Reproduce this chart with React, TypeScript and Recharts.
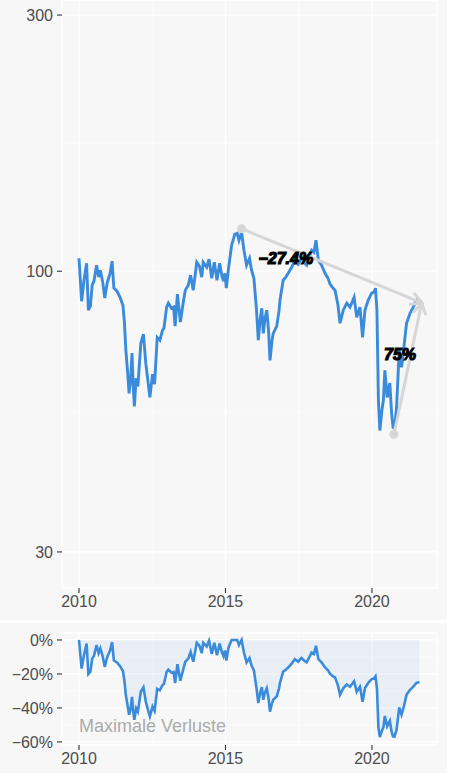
import React from 'react';
import {
  LineChart, Line, ComposedChart, Area, XAxis, YAxis,
  CartesianGrid, ReferenceLine, ReferenceDot,
} from 'recharts';

// decimal years of each observation
const dates = [
  2010.00, 2010.09, 2010.17, 2010.26, 2010.32, 2010.39, 2010.45, 2010.51, 2010.60, 2010.67,
  2010.73, 2010.81, 2010.88, 2010.96, 2011.06, 2011.13, 2011.19, 2011.30, 2011.40, 2011.50,
  2011.55, 2011.60, 2011.66, 2011.71, 2011.76, 2011.81, 2011.85, 2011.89, 2011.95, 2012.01,
  2012.11, 2012.20, 2012.28, 2012.35, 2012.42, 2012.51, 2012.58, 2012.67, 2012.76, 2012.85,
  2012.90, 2012.99, 2013.05, 2013.16, 2013.23, 2013.28, 2013.36, 2013.46, 2013.57, 2013.63,
  2013.73, 2013.81, 2013.90, 2014.02, 2014.11, 2014.19, 2014.24, 2014.36, 2014.44, 2014.53,
  2014.62, 2014.71, 2014.80, 2014.88, 2014.93, 2014.98, 2015.03, 2015.10, 2015.21, 2015.32,
  2015.40, 2015.46, 2015.55, 2015.63, 2015.72, 2015.82, 2015.89, 2015.97, 2016.06, 2016.12,
  2016.18, 2016.24, 2016.29, 2016.35, 2016.41, 2016.47, 2016.52, 2016.59, 2016.63, 2016.75,
  2016.83, 2016.86, 2016.97, 2017.06, 2017.14, 2017.26, 2017.37, 2017.48, 2017.60, 2017.68,
  2017.77, 2017.85, 2017.94, 2018.02, 2018.09, 2018.17, 2018.28, 2018.40, 2018.50, 2018.57,
  2018.67, 2018.74, 2018.84, 2018.91, 2019.02, 2019.14, 2019.25, 2019.39, 2019.48, 2019.59,
  2019.68, 2019.76, 2019.87, 2019.99, 2020.07, 2020.12, 2020.17, 2020.22, 2020.27, 2020.34,
  2020.39, 2020.44, 2020.52, 2020.61, 2020.67, 2020.72, 2020.77, 2020.84, 2020.93, 2021.01,
  2021.09, 2021.18, 2021.30, 2021.41, 2021.52, 2021.62,
];

// indexed price (log scale)
const price = [
  105.7, 87.9, 96.2, 103.5, 84.6, 86.1, 94.2, 95.8, 102.6, 97.5,
  100.4, 95.4, 89.1, 95.0, 99.1, 104.4, 93.0, 91.8, 89.4, 86.4,
  80.4, 71.3, 64.8, 59.2, 62.6, 70.4, 61.3, 56.0, 63.2, 61.0,
  73.4, 76.3, 67.4, 62.6, 58.2, 64.3, 61.6, 75.3, 74.4, 77.6,
  78.3, 85.7, 87.2, 85.3, 85.7, 79.0, 90.6, 80.4, 88.3, 92.2,
  94.2, 98.3, 92.2, 103.9, 102.2, 97.5, 103.9, 101.7, 105.3, 97.0,
  103.9, 96.2, 103.5, 97.9, 95.8, 99.1, 93.0, 100.9, 111.8, 117.2,
  117.7, 114.2, 118.2, 109.4, 102.6, 105.7, 100.4, 97.0, 84.6, 74.4,
  81.0, 85.3, 76.6, 81.7, 84.6, 77.6, 68.2, 74.4, 76.6, 79.0,
  84.6, 88.3, 96.2, 97.5, 99.1, 101.7, 104.8, 103.0, 105.7, 103.9,
  102.6, 105.7, 109.4, 108.5, 114.2, 104.8, 102.6, 99.1, 97.0, 94.6,
  93.0, 92.2, 86.4, 80.0, 84.6, 87.2, 85.7, 89.4, 82.1, 85.7,
  75.3, 84.6, 88.3, 91.0, 91.4, 93.0, 84.6, 57.5, 50.5, 55.1,
  57.5, 65.4, 58.2, 61.9, 54.4, 51.2, 51.0, 55.8, 71.3, 66.2,
  72.2, 80.0, 83.5, 85.7, 88.3, 89.1,
];

// drawdown from running high, in %
const drawdown = [
  0, -16.8, -9.0, -2.1, -20.0, -18.6, -11.0, -9.4, -3.0, -7.8,
  -5.0, -9.8, -15.8, -10.2, -6.2, -1.3, -12.1, -13.2, -15.4, -18.3,
  -24.0, -32.6, -38.7, -44.0, -40.8, -33.5, -42.0, -47.0, -40.2, -42.2,
  -30.5, -27.8, -36.3, -40.8, -45.0, -39.2, -41.7, -28.7, -29.6, -26.5,
  -25.9, -18.9, -17.5, -19.3, -18.9, -25.3, -14.3, -24.0, -16.5, -12.8,
  -11.0, -7.0, -12.8, -1.7, -3.4, -7.8, -1.7, -3.8, -0.4, -8.2,
  -1.7, -9.0, -2.1, -7.4, -9.4, -6.2, -12.1, -4.6, 0, 0,
  0, -3.0, 0, -7.4, -13.2, -10.6, -15.0, -17.9, -28.4, -37.1,
  -31.4, -27.8, -35.2, -30.8, -28.4, -34.4, -42.2, -37.1, -35.2, -33.2,
  -28.4, -25.3, -18.6, -17.5, -16.2, -13.9, -11.3, -12.8, -10.6, -12.1,
  -13.2, -10.6, -7.4, -8.2, -3.4, -11.3, -13.2, -16.2, -17.9, -20.0,
  -21.4, -22.0, -26.9, -32.3, -28.4, -26.2, -27.5, -24.3, -30.5, -27.5,
  -36.3, -28.4, -25.3, -23.0, -22.7, -21.4, -28.4, -51.4, -57.2, -53.4,
  -51.4, -44.7, -50.8, -47.7, -54.0, -56.7, -56.9, -52.8, -39.7, -44.0,
  -39.0, -32.3, -29.3, -27.5, -25.3, -24.7,
];

const yearTicks = [2010, 2015, 2020];
const yearMinor = [2012.5, 2017.5];
const priceTicks = [30, 100, 300];
const priceMinor = [54.77, 173.2];
const ddTicks = [-60, -40, -20, 0];
const ddMinor = [-50, -30, -10];

// annotation anchors
const peakPt = { t: 2015.55, v: 120 };
const troughPt = { t: 2020.75, v: 49.7 };
const endPt = { t: 2021.7, v: 87.3 };
const lossLabel = { t: 2017.06, v: 105.7, text: '\u221227.4%' };
const gainLabel = { t: 2020.96, v: 70, text: '75%' };

const chartData = dates.map((t, i) => ({ t, price: price[i], dd: drawdown[i] }));

const FONT = '"Liberation Sans", Arial, Helvetica, sans-serif';
const BLUE = '#3a8bdb';
const ARROW = '#d6d6d6';
const BG = '#f7f7f7';
const tickStyle = { fill: '#4d4d4d', fontSize: 16, fontFamily: FONT };
const X_DOMAIN: [number, number] = [2009.42, 2022.22];

const arrowShape = (p: any) => {
  const { x1, y1, x2, y2 } = p;
  const ang = Math.atan2(y2 - y1, x2 - x1);
  const len = 13;
  const spread = Math.PI / 6;
  const ax = x2 - len * Math.cos(ang - spread);
  const ay = y2 - len * Math.sin(ang - spread);
  const bx = x2 - len * Math.cos(ang + spread);
  const by = y2 - len * Math.sin(ang + spread);
  return (
    <g>
      <line x1={x1} y1={y1} x2={x2} y2={y2} stroke={ARROW} strokeWidth={3} />
      <polyline points={`${ax},${ay} ${x2},${y2} ${bx},${by}`} fill="none" stroke={ARROW} strokeWidth={3} />
    </g>
  );
};

const annoText = (text: string) => (p: any) => (
  <text
    x={p.cx} y={p.cy} textAnchor="middle" dominantBaseline="central"
    fontFamily={FONT} fontSize={16} fontWeight={700} fontStyle="italic"
    fill="#000" stroke="#000" strokeWidth={1.2}
  >
    {text}
  </text>
);

const pctFmt = (v: number) => (v < 0 ? `\u2212${Math.abs(v)}%` : `${v}%`);

export default function App() {
  return (
    <div style={{ position: 'absolute', left: 0, top: 0, width: 452, height: 773, background: '#fff' }}>
      <div style={{ position: 'absolute', left: 0, top: 0, width: 447, height: 620, background: BG }}>
        <LineChart width={447} height={620} data={chartData} margin={{ top: 0, right: 10, bottom: 0, left: 0 }}>
          <CartesianGrid stroke="#fff" strokeWidth={0.6} horizontalValues={priceMinor} verticalValues={yearMinor} />
          <CartesianGrid stroke="#fff" strokeWidth={1.3} />
          <XAxis
            dataKey="t" type="number" domain={X_DOMAIN} ticks={yearTicks} allowDataOverflow interval={0}
            height={32} tickSize={5} tickMargin={3} axisLine={false}
            tickLine={{ stroke: '#333', strokeWidth: 1.1 }} tick={tickStyle}
          />
          <YAxis
            type="number" scale="log" domain={[25.7, 320]} ticks={priceTicks} allowDataOverflow interval={0}
            width={62} tickSize={5} tickMargin={4} axisLine={false}
            tickLine={{ stroke: '#333', strokeWidth: 1.1 }} tick={tickStyle}
          />
          <Line dataKey="price" stroke={BLUE} strokeWidth={2.9} dot={false} isAnimationActive={false} />
          <ReferenceLine segment={[{ x: peakPt.t, y: peakPt.v }, { x: endPt.t, y: endPt.v }]} shape={arrowShape} />
          <ReferenceLine segment={[{ x: troughPt.t, y: troughPt.v }, { x: endPt.t, y: endPt.v }]} shape={arrowShape} />
          <ReferenceDot x={peakPt.t} y={peakPt.v} r={4.5} fill={ARROW} stroke="none" />
          <ReferenceDot x={troughPt.t} y={troughPt.v} r={4.5} fill={ARROW} stroke="none" />
          <ReferenceDot x={lossLabel.t} y={lossLabel.v} shape={annoText(lossLabel.text)} />
          <ReferenceDot x={gainLabel.t} y={gainLabel.v} shape={annoText(gainLabel.text)} />
        </LineChart>
      </div>

      <div style={{ position: 'absolute', left: 0, top: 623, width: 447, height: 150, background: BG }}>
        <ComposedChart width={447} height={150} data={chartData} margin={{ top: 10, right: 10, bottom: 0, left: 0 }}>
          <CartesianGrid stroke="#fff" strokeWidth={0.6} horizontalValues={ddMinor} verticalValues={yearMinor} />
          <CartesianGrid stroke="#fff" strokeWidth={1.3} />
          <XAxis
            dataKey="t" type="number" domain={X_DOMAIN} ticks={yearTicks} allowDataOverflow interval={0}
            height={28} tickSize={5} tickMargin={3} axisLine={false}
            tickLine={{ stroke: '#333', strokeWidth: 1.1 }} tick={tickStyle}
          />
          <YAxis
            type="number" domain={[-61.8, 4.1]} ticks={ddTicks} allowDataOverflow interval={0}
            width={62} tickSize={5} tickMargin={4} axisLine={false} tickFormatter={pctFmt}
            tickLine={{ stroke: '#333', strokeWidth: 1.1 }} tick={tickStyle}
          />
          <Area
            dataKey="dd" baseValue={0} stroke={BLUE} strokeWidth={2.6}
            fill={BLUE} fillOpacity={0.08} isAnimationActive={false}
          />
          <ReferenceDot
            x={2010} y={-54.1}
            shape={(p: any) => (
              <text x={p.cx} y={p.cy} textAnchor="start" fontFamily={FONT} fontSize={18} fill="#ababab">
                Maximale Verluste
              </text>
            )}
          />
        </ComposedChart>
      </div>
    </div>
  );
}
